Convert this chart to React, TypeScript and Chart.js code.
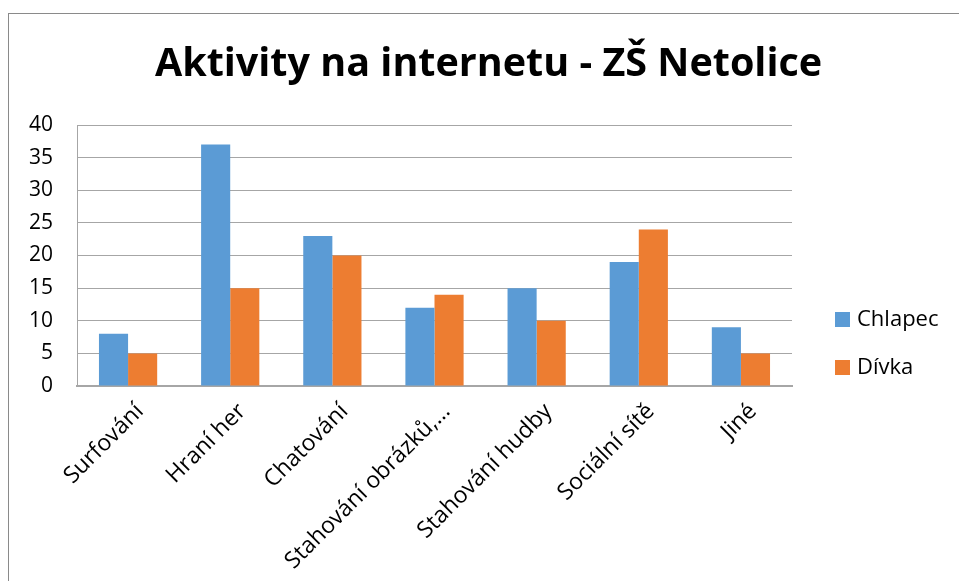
import React, { useEffect, useRef } from "react";
import { Chart, registerables } from "chart.js";

Chart.register(...registerables);

const categories = [
  "Surfování",
  "Hraní her",
  "Chatování",
  "Stahování obrázků,…",
  "Stahování hudby",
  "Sociální sítě",
  "Jiné",
];
const chlapecValues = [8, 37, 23, 12, 15, 19, 9];
const divkaValues = [5, 15, 20, 14, 10, 24, 5];
const seriesNames = ["Chlapec", "Dívka"];
const seriesColors = ["#5b9bd5", "#ed7d31"];
const titleText = "Aktivity na internetu - ZŠ Netolice";

const FONT = "'Open Sans', sans-serif";

const legendPlugin = {
  id: "customLegend",
  afterDraw(chart: any) {
    const ctx = chart.ctx;
    const x0 = chart.chartArea.right + 43;
    const ys = [319, 367];
    ctx.save();
    chart.data.datasets.forEach((ds: any, i: number) => {
      const y = ys[i];
      ctx.fillStyle = ds.backgroundColor;
      ctx.fillRect(x0, y - 7, 15, 15);
      ctx.fillStyle = "#000";
      ctx.font = `22px ${FONT}`;
      ctx.textBaseline = "middle";
      ctx.textAlign = "left";
      ctx.fillText(ds.label, x0 + 22, y + 1);
    });
    ctx.restore();
  },
};

export default function App() {
  const ref = useRef<HTMLCanvasElement | null>(null);

  useEffect(() => {
    if (!ref.current) return;
    const chart = new Chart(ref.current, {
      type: "bar",
      data: {
        labels: categories,
        datasets: [
          {
            label: seriesNames[0],
            data: chlapecValues,
            backgroundColor: seriesColors[0],
            categoryPercentage: 0.57,
            barPercentage: 1.0,
          },
          {
            label: seriesNames[1],
            data: divkaValues,
            backgroundColor: seriesColors[1],
            categoryPercentage: 0.57,
            barPercentage: 1.0,
          },
        ],
      },
      options: {
        responsive: false,
        animation: false,
        layout: { padding: { left: 18, right: 0, top: 0, bottom: 0 } },
        plugins: {
          legend: { display: false },
          tooltip: { enabled: false },
          title: {
            display: true,
            text: titleText,
            color: "#000",
            font: { family: FONT, size: 39.5, weight: "bold", lineHeight: 1.2 },
            padding: { top: 41, bottom: 36.6 },
          },
        },
        scales: {
          x: {
            grid: { display: false },
            border: { display: true, color: "#a6a6a6", width: 2 },
            ticks: {
              color: "#000",
              font: { family: FONT, size: 23 },
              maxRotation: 45,
              minRotation: 45,
              padding: 4,
              labelOffset: 12,
              autoSkip: false,
            },
            afterFit(scale: any) {
              scale.height = 195;
            },
          },
          y: {
            min: 0,
            max: 40,
            ticks: {
              stepSize: 5,
              color: "#000",
              font: { family: FONT, size: 21 },
              padding: 24,
            },
            grid: { color: "#a6a6a6", lineWidth: 1, drawTicks: false },
            border: { display: true, color: "#a6a6a6", width: 1 },
            afterFit(scale: any) {
              scale.width = 59;
            },
          },
          spacer: {
            type: "linear",
            position: "right",
            display: true,
            grid: { display: false, drawTicks: false },
            border: { display: false },
            ticks: { display: false },
            afterFit(scale: any) {
              scale.width = 167;
            },
          },
        },
      },
      plugins: [legendPlugin],
    });
    return () => chart.destroy();
  }, []);

  return (
    <div
      style={{
        position: "fixed",
        left: 0,
        top: 0,
        width: 959,
        height: 581,
        overflow: "hidden",
        background: "#fff",
      }}
    >
      <div
        style={{
          position: "absolute",
          left: 8,
          top: 13,
          width: 1000,
          height: 1000,
          borderLeft: "1px solid #8a8a8a",
          borderTop: "1px solid #8a8a8a",
        }}
      />
      <canvas
        ref={ref}
        width={959}
        height={581}
        style={{ position: "absolute", left: 0, top: 0, width: 959, height: 581 }}
      />
    </div>
  );
}
